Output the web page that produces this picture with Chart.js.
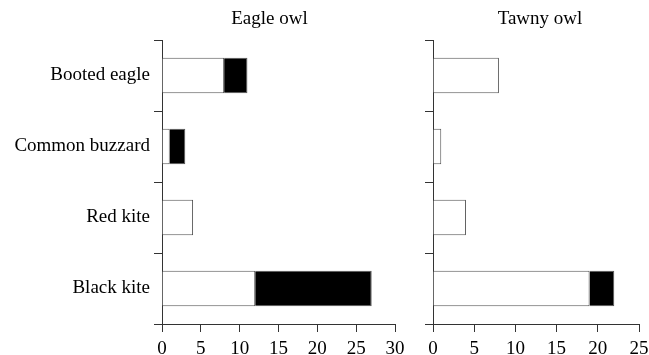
<!DOCTYPE html>
<html>
<head>
<meta charset="utf-8">
<script src="https://cdn.jsdelivr.net/npm/chart.js@4"></script>
<style>
  body { margin: 0; background: #fff; overflow: hidden; }
  #wrap { position: relative; width: 649px; height: 355px; overflow: hidden; }
  canvas { position: absolute; top: 0; }
</style>
</head>
<body>
<div id="wrap">
  <canvas id="eagleChart" width="407" height="355" style="left:0"></canvas>
  <canvas id="tawnyChart" width="251" height="355" style="left:398px"></canvas>
</div>
<script>
let categorias = ["Booted eagle", "Common buzzard", "Red kite", "Black kite"];

let eagleBranco = [8, 1, 4, 12];
let eaglePreto = [3, 2, 0, 15];

let tawnyBranco = [8, 1, 4, 19];
let tawnyPreto = [0, 0, 0, 3];

let eixoEagle = [0, 5, 10, 15, 20, 25, 30];
let eixoTawny = [0, 5, 10, 15, 20, 25];

let fonte = "'Liberation Serif', 'Times New Roman', serif";
let corEixo = "#333";

// titulo de cada painel, desenhado acima da area do grafico
let tituloPainel = {
    id: "tituloPainel",
    afterDraw(chart, args, opts) {
        let c = chart.ctx;
        c.save();
        c.font = "19px " + fonte;
        c.fillStyle = "#000";
        c.textAlign = "center";
        c.textBaseline = "middle";
        let area = chart.chartArea;
        c.fillText(opts.text, (area.left + area.right) / 2 + opts.dx, 19);
        c.restore();
    }
};

function montarGrafico(id, branco, preto, eixo, titulo, larguraY, folgaDireita, mostrarRotulos, dx) {
    let ctx = document.getElementById(id).getContext("2d");
    return new Chart(ctx, {
        type: "bar",
        data: {
            labels: categorias,
            datasets: [{
                data: branco,
                backgroundColor: "#fff",
                borderColor: "#555",
                borderWidth: 1,
                borderSkipped: "left",
                barPercentage: 0.5,
                categoryPercentage: 1
            }, {
                data: preto,
                backgroundColor: "#000",
                borderColor: "#555",
                borderWidth: 1,
                borderSkipped: "left",
                barPercentage: 0.5,
                categoryPercentage: 1
            }]
        },
        plugins: [tituloPainel],
        options: {
            indexAxis: "y",
            responsive: false,
            maintainAspectRatio: false,
            animation: false,
            layout: { padding: { top: 40, right: folgaDireita, bottom: 0, left: 0 } },
            plugins: {
                legend: { display: false },
                tooltip: { enabled: false },
                tituloPainel: { text: titulo, dx: dx }
            },
            scales: {
                x: {
                    type: "linear",
                    stacked: true,
                    min: eixo[0],
                    max: eixo[eixo.length - 1],
                    afterBuildTicks: (s) => { s.ticks = eixo.map(v => ({ value: v })); },
                    afterFit: (s) => { s.height = 31; s.paddingLeft = 0; s.paddingRight = 0; },
                    grid: { drawOnChartArea: false, tickLength: 8, color: corEixo },
                    border: { color: corEixo, width: 1 },
                    ticks: {
                        color: "#000",
                        padding: 8,
                        maxRotation: 0,
                        font: { family: fonte, size: 19, lineHeight: 1 }
                    }
                },
                y: {
                    stacked: true,
                    afterFit: (s) => { s.width = larguraY; s.paddingTop = 0; s.paddingBottom = 0; },
                    grid: { drawOnChartArea: false, tickLength: 8, color: corEixo },
                    border: { color: corEixo, width: 1 },
                    ticks: {
                        display: mostrarRotulos,
                        color: "#000",
                        padding: 4,
                        font: { family: fonte, size: 19 }
                    }
                }
            }
        }
    });
}

montarGrafico("eagleChart", eagleBranco, eaglePreto, eixoEagle, "Eagle owl", 162, 12, true, -9);
montarGrafico("tawnyChart", tawnyBranco, tawnyPreto, eixoTawny, "Tawny owl", 35, 10, false, 4);
</script>
</body>
</html>
